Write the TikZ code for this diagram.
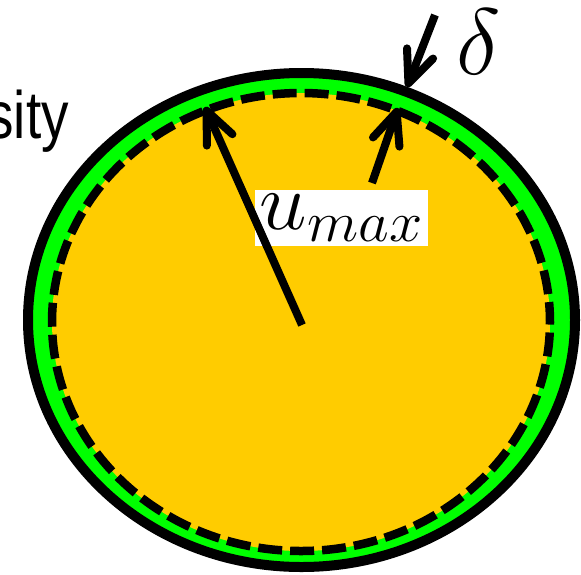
\RequirePackage{fix-cm}
\documentclass[tikz,border=0pt]{standalone}
\usepackage{graphicx}
\usepackage{fontspec}
\newfontfamily\arialfont{Liberation Sans}
\usetikzlibrary{arrows.meta}
\definecolor{fillyellow}{HTML}{FFCC00}
\definecolor{bandgreen}{HTML}{00FF00}
\begin{document}
\begin{tikzpicture}[x=1pt,y=-1pt,
  barb/.style={line width=8pt, -{Straight Barb[length=32pt,width=28pt,round]}},
  bigmath/.style={font=\fontsize{82}{96}\selectfont},
  ]
\useasboundingbox (0,0) rectangle (581,574);
\clip (0,0) rectangle (581,574);
\coordinate (ctr) at (301.5,320);
\coordinate (dctr) at (301,322);
\fill[bandgreen] (ctr) ellipse [x radius=273.5pt, y radius=247pt];
\fill[fillyellow] (dctr) ellipse [x radius=249pt, y radius=229pt];
\draw[line width=8.5pt, dash pattern=on 24pt off 8pt, dash phase=4pt] (dctr) ellipse [x radius=249pt, y radius=229pt];
\draw[line width=10pt] (ctr) ellipse [x radius=273.5pt, y radius=247pt];

\node[fill=white, inner sep=0pt, minimum width=173pt, minimum height=56pt, bigmath] (um) at (341.5,218) {\scalebox{1.04}[1]{$u_{max}$}};
\node[font=\fontsize{94}{110}\selectfont, inner sep=0pt] (dl) at (479,42) {$\delta$};
\node[font=\arialfont\fontsize{67}{72}\selectfont, anchor=base east, inner sep=0pt] (sity) at (69,138) {\scalebox{0.82}[1]{sity}};

\coordinate (lbase) at (302,325);
\coordinate (ltip) at (205,107);
\coordinate (rbase) at (372,183);
\coordinate (rtip) at (398,108);
\coordinate (dstart) at (435,15);
\coordinate (dtip) at (407,87);
\draw[barb] (lbase) -- (ltip);
\draw[barb] (rbase) -- (rtip);
\draw[barb] (dstart) -- (dtip);
\end{tikzpicture}
\end{document}
